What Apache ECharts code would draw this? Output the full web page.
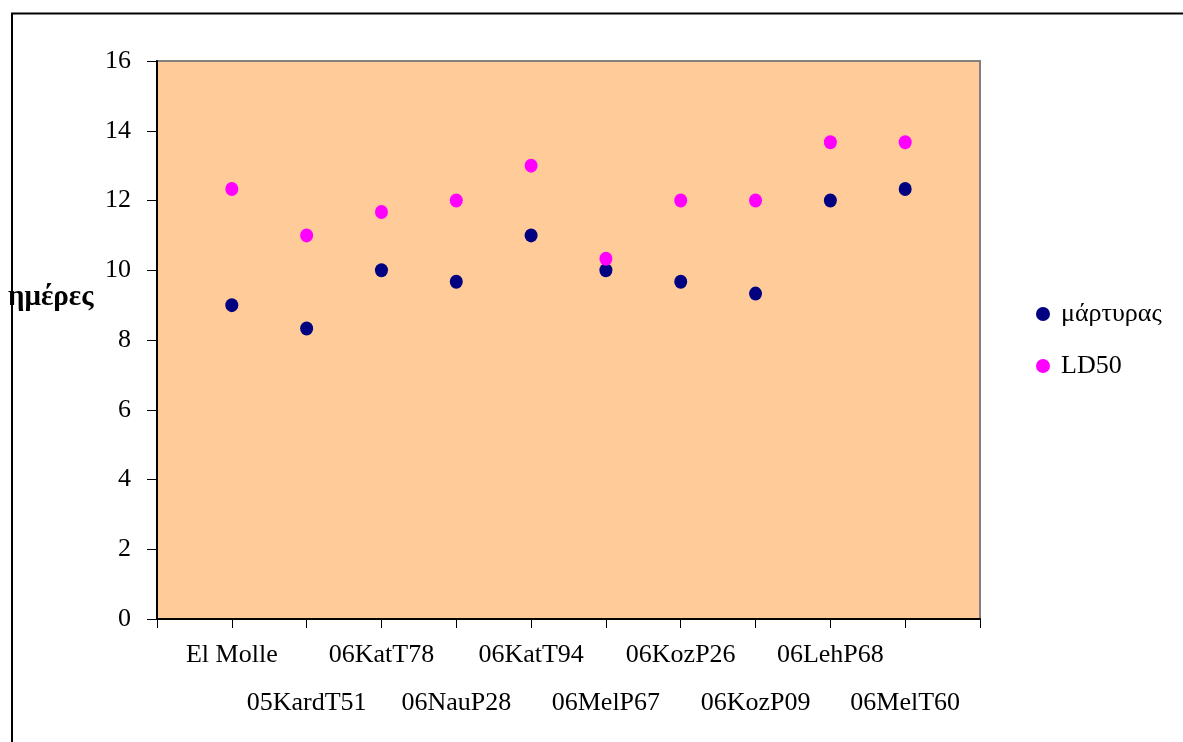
<!DOCTYPE html>
<html>
<head>
<meta charset="utf-8">
<script src="https://cdn.jsdelivr.net/npm/echarts@6/dist/echarts.min.js"></script>
<style>
html,body{margin:0;padding:0;background:#fff;}
#chart{width:1183px;height:742px;}
</style>
</head>
<body>
<div id="chart"></div>
<script>
const categories = ['El Molle','05KardT51','06KatT78','06NauP28','06KatT94','06MelP67','06KozP26','06KozP09','06LehP68','06MelT60'];
const martyras = [9.0, 8.33, 10.0, 9.67, 11.0, 10.0, 9.67, 9.33, 12.0, 12.33];
const ld50 = [12.33, 11.0, 11.67, 12.0, 13.0, 10.33, 12.0, 12.0, 13.67, 13.67];
const yTicks = [0, 2, 4, 6, 8, 10, 12, 14, 16];
const seriesNames = ['μάρτυρας', 'LD50'];
const yName = 'ημέρες';

const FONT = '"Liberation Serif", "Times New Roman", serif';
const axisCats = [''].concat(categories, ['']);
const toPairs = arr => arr.map((v, i) => [i + 1, v]);

const chart = echarts.init(document.getElementById('chart'));
chart.setOption({
  backgroundColor: '#ffffff',
  animation: false,
  grid: {
    left: 157, top: 61, right: 203, bottom: 123,
    show: true, backgroundColor: '#FFCC99', borderColor: '#808080', borderWidth: 2
  },
  xAxis: {
    type: 'category',
    data: axisCats,
    boundaryGap: false,
    axisLine: { lineStyle: { color: '#000', width: 2 } },
    axisTick: { show: true, length: 9, interval: 0, lineStyle: { color: '#000', width: 1 } },
    axisLabel: {
      interval: 0,
      margin: 12,
      fontFamily: FONT, fontSize: 26, color: '#000', lineHeight: 48,
      formatter: (v, i) => (v === '' ? '' : (i % 2 === 1 ? v : '\n' + v))
    },
    splitLine: { show: false }
  },
  yAxis: {
    type: 'value',
    min: yTicks[0], max: yTicks[yTicks.length - 1], interval: 2,
    axisLine: { show: true, lineStyle: { color: '#000', width: 2 } },
    axisTick: { show: true, length: 10, lineStyle: { color: '#000', width: 1 } },
    axisLabel: { fontFamily: FONT, fontSize: 26, color: '#000', margin: 26 },
    splitLine: { show: false }
  },
  legend: {
    orient: 'vertical',
    left: 1036, top: 301, padding: 0,
    itemWidth: 14, itemHeight: 14, itemGap: 26,
    icon: 'circle',
    data: seriesNames,
    itemStyle: { opacity: 1 },
    textStyle: { fontFamily: FONT, fontSize: 26, color: '#000', lineHeight: 26, padding: [0, 0, 0, 6] }
  },
  graphic: [
    {
      type: 'rect', silent: true, z: 100,
      shape: { x: 12, y: 13.5, width: 1300, height: 900 },
      style: { fill: 'none', stroke: '#000', lineWidth: 2 }
    },
    {
      type: 'text', z: 101, left: 8, top: 283,
      style: { text: yName, fontFamily: FONT, fontSize: 29, fontWeight: 'bold', fill: '#000' }
    }
  ],
  series: [
    {
      name: seriesNames[0], type: 'scatter', data: toPairs(martyras),
      symbol: 'circle', symbolSize: [13, 14],
      itemStyle: { color: '#000080', opacity: 1 }
    },
    {
      name: seriesNames[1], type: 'scatter', data: toPairs(ld50),
      symbol: 'circle', symbolSize: [13, 14],
      itemStyle: { color: '#FF00FF', opacity: 1 }
    }
  ]
});
</script>
</body>
</html>
